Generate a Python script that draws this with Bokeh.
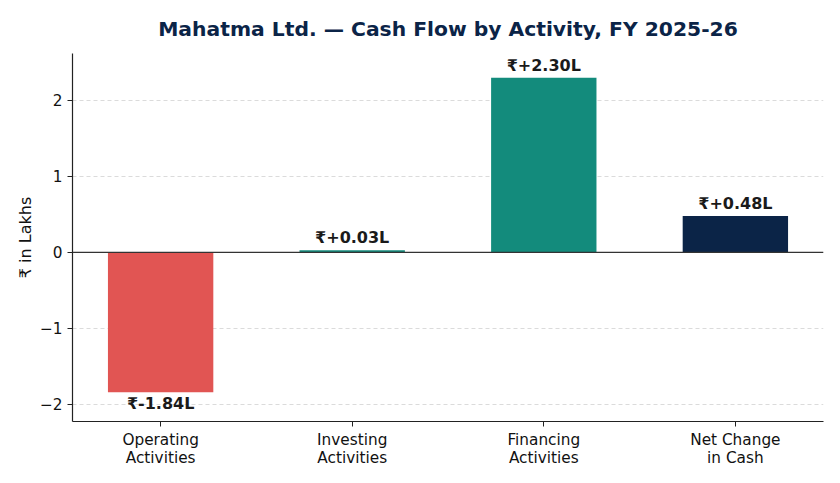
from bokeh.plotting import figure
from bokeh.models import Range1d, FixedTicker, ColumnDataSource, Span
from bokeh.core.properties import value
from bokeh.embed import file_html
from bokeh.resources import INLINE

categories = ["Operating\nActivities", "Investing\nActivities", "Financing\nActivities", "Net Change\nin Cash"]
values = [-1.84, 0.03, 2.30, 0.48]
colors = ["#E15553", "#138B7C", "#138B7C", "#0B2447"]
y_ticks = [-2, -1, 0, 1, 2]
y_tick_labels = {-2: "\u22122", -1: "\u22121", 0: "0", 1: "1", 2: "2"}

xs = list(range(len(categories)))
labels = [f"\u20b9{v:+.2f}L" if v >= 0 else f"\u20b9{v:.2f}L" for v in values]

p = figure(width=840, height=483, output_backend="svg", toolbar_location=None,
           x_range=Range1d(-0.46, 3.46), y_range=Range1d(-2.224, 2.618),
           min_border_left=72, min_border_right=17, min_border_top=53, min_border_bottom=62)
p.title.text = "Mahatma Ltd. \u2014 Cash Flow by Activity, FY 2025-26"
p.title.text_font = "DejaVu Sans"
p.title.text_font_style = "bold"
p.title.text_font_size = "20.3px"
p.title.text_color = "#0B2447"
p.title.align = "center"
p.title.offset = 0
p.title.standoff = 26
p.outline_line_color = None
p.background_fill_color = "white"
p.border_fill_color = "white"

src = ColumnDataSource(dict(x=xs, top=values, color=colors))
p.vbar(x="x", top="top", bottom=0, width=0.55, fill_color="color", line_color=None, source=src)

p.add_layout(Span(location=0, dimension="width", line_color="#333333", line_width=1.2))

pos = ColumnDataSource(dict(x=[x for x, v in zip(xs, values) if v >= 0],
                            y=[v for v in values if v >= 0],
                            t=[l for l, v in zip(labels, values) if v >= 0]))
neg = ColumnDataSource(dict(x=[x for x, v in zip(xs, values) if v < 0],
                            y=[v for v in values if v < 0],
                            t=[l for l, v in zip(labels, values) if v < 0]))
p.text(x="x", y="y", text="t", source=pos, text_align="center", text_baseline="bottom",
       y_offset=-3, text_font=value("DejaVu Sans"), text_font_style="bold",
       text_font_size="16px", text_color="#1a1a1a")
p.text(x="x", y="y", text="t", source=neg, text_align="center", text_baseline="top",
       y_offset=2, text_font=value("DejaVu Sans"), text_font_style="bold",
       text_font_size="16px", text_color="#1a1a1a")

p.xaxis.ticker = FixedTicker(ticks=xs)
p.xaxis.major_label_overrides = {i: c for i, c in enumerate(categories)}
p.yaxis.ticker = FixedTicker(ticks=y_ticks)
p.yaxis.major_label_overrides = y_tick_labels
for ax in (p.xaxis, p.yaxis):
    ax.major_label_text_font = "DejaVu Sans"
    ax.major_label_text_font_size = "15.3px"
    ax.major_label_text_color = "#111111"
    ax.axis_line_color = "#222222"
    ax.axis_line_width = 1.2
    ax.major_tick_line_color = "#222222"
    ax.major_tick_in = 0
    ax.major_tick_out = 5
    ax.major_label_standoff = 5
    ax.minor_tick_line_color = None
p.xaxis.major_label_text_line_height = 1.0
p.xaxis.major_label_standoff = 4
p.yaxis.axis_label = "\u20b9 in Lakhs"
p.yaxis.axis_label_text_font = "DejaVu Sans"
p.yaxis.axis_label_text_font_style = "normal"
p.yaxis.axis_label_text_font_size = "16px"
p.yaxis.axis_label_text_color = "#111111"
p.yaxis.axis_label_standoff = 2

p.xgrid.grid_line_color = None
p.ygrid.grid_line_color = "#cccccc"
p.ygrid.grid_line_dash = "4 3"
p.ygrid.grid_line_alpha = 0.7

open("out.html", "w").write(file_html(p, INLINE))
